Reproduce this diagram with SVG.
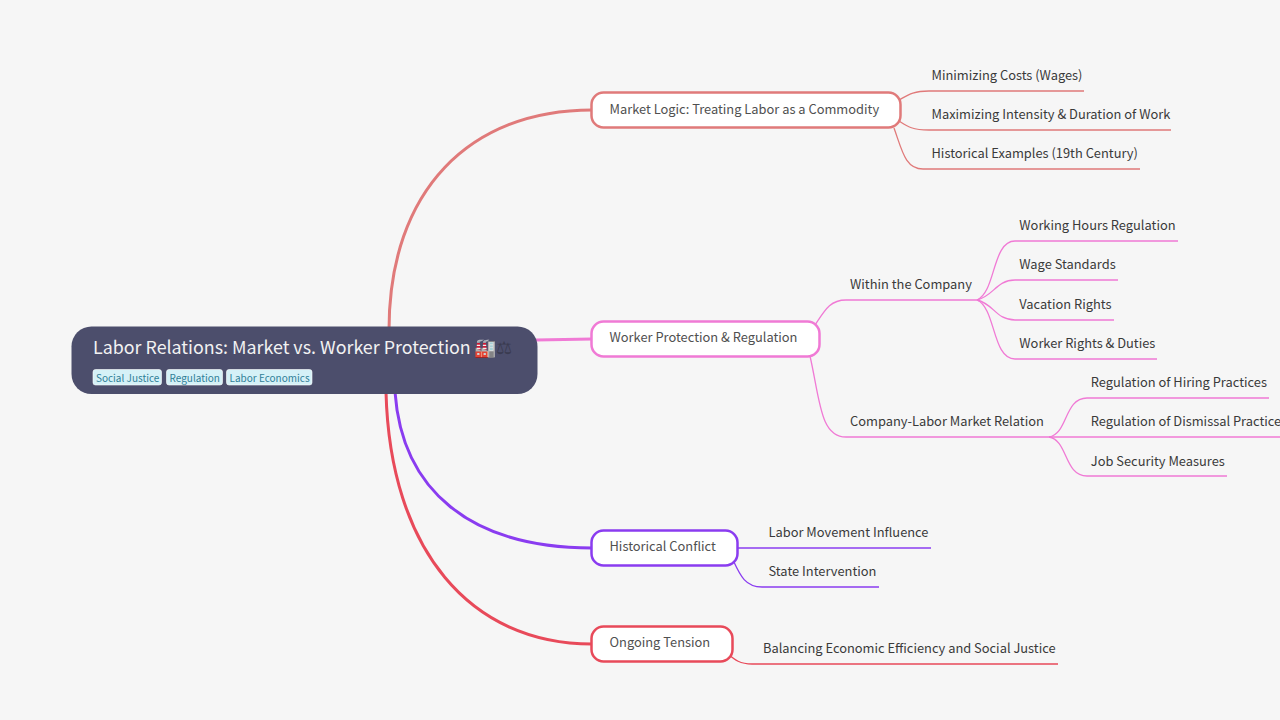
<svg xmlns="http://www.w3.org/2000/svg" width="1280" height="720" viewBox="0 0 1280 720">
<style>
text{font-family:"Noto Sans CJK SC","Noto Sans",sans-serif;}
.t{font-size:12.860px;fill:#3a3a3a;}
.m{font-size:12.860px;fill:#505050;}
.box{fill:#fff;stroke-width:2.5;}
.tag{fill:#d5f1f7;stroke:#fff;stroke-width:.6;}
.tt{font-size:10px;fill:#2f7f98;}
.c{fill:none;stroke-width:1.3;}
.r{stroke:#e07a7a}.p{stroke:#f07ad5}.v{stroke:#8a3cf0}.e{stroke:#e84a5a}
</style>
<rect width="1280" height="720" fill="#f6f6f6"/>
<g id="connectors">
<path class="c r" style="stroke-width:3" d="M389 330C389 190 470 110 592 110"/>
<path class="c p" style="stroke-width:3" d="M536 340L592 339"/>
<path class="c v" style="stroke-width:3" d="M395 392C402 490 470 548 592 548"/>
<path class="c e" style="stroke-width:3" d="M386 392C390 550 470 644 592 644"/>
<path class="c r" d="M899 100C908 95 913 91 929 91H1084"/>
<path class="c r" d="M899 121C908 127 913 130 929 130H1171"/>
<path class="c r" d="M894 128C902 150 905 169 923 169H1140"/>
<path class="c p" d="M815 325C825 310 830 300 846 300H977"/>
<path class="c p" d="M810 356C820 400 820 437 846 437H1049"/>
<path class="c p" d="M977 300C996 292 992 241 1015 241H1178"/>
<path class="c p" d="M977 300C994 296 996 280 1015 280H1118"/>
<path class="c p" d="M977 300C994 304 996 320 1015 320H1114"/>
<path class="c p" d="M977 300C996 308 992 359 1015 359H1157"/>
<path class="c p" d="M1049 437C1068 434 1064 398 1087 398H1269"/>
<path class="c p" d="M1049 437H1280"/>
<path class="c p" d="M1049 437C1068 440 1064 476 1087 476H1227"/>
<path class="c v" d="M738 548H931"/>
<path class="c v" d="M733 560C740 575 745 587 762 587H879"/>
<path class="c e" d="M728 654C735 660 740 664 752 664H1058"/>
</g>
<g id="root">
<rect x="71.500" y="326.500" width="466" height="67.500" rx="20" fill="#4c4e6c"/>
<text x="93" y="354" font-size="17.850" fill="#f2f2f2">Labor Relations: Market vs. Worker Protection <tspan dx="-0.800">🏭</tspan><tspan fill="#3a3b50">⚖</tspan></text>
<rect class="tag" x="93" y="369.500" width="68.500" height="15.500" rx="2.500"/>
<text class="tt" x="96" y="381.500">Social Justice</text>
<rect class="tag" x="166.500" y="369.500" width="56" height="15.500" rx="2.500"/>
<text class="tt" x="169.500" y="381.500">Regulation</text>
<rect class="tag" x="226.500" y="369.500" width="85.500" height="15.500" rx="2.500"/>
<text class="tt" x="229.500" y="381.500">Labor Economics</text>
</g>
<g id="n-market"><rect class="box r" x="591.500" y="92.500" width="309" height="35" rx="12"/><text class="m" x="609.500" y="114">Market Logic: Treating Labor as a Commodity</text></g>
<g id="n-protect"><rect class="box p" x="591.500" y="321.500" width="228" height="35" rx="12"/><text class="m" x="609.500" y="342">Worker Protection &amp; Regulation</text></g>
<g id="n-conflict"><rect class="box v" x="591.500" y="530.500" width="146" height="35" rx="12"/><text class="m" x="609.500" y="551">Historical Conflict</text></g>
<g id="n-tension"><rect class="box e" x="591.500" y="626.500" width="141" height="35" rx="12"/><text class="m" x="609.500" y="647">Ongoing Tension</text></g>
<g id="n1"><text class="t" x="931.500" y="80">Minimizing Costs (Wages)</text></g>
<g id="n2"><text class="t" x="931.500" y="119">Maximizing Intensity &amp; Duration of Work</text></g>
<g id="n3"><text class="t" x="931.500" y="158">Historical Examples (19th Century)</text></g>
<g id="n4"><text class="t" x="850" y="289">Within the Company</text></g>
<g id="n5"><text class="t" x="850" y="426">Company-Labor Market Relation</text></g>
<g id="n6"><text class="t" x="1019.300" y="230">Working Hours Regulation</text></g>
<g id="n7"><text class="t" x="1019.300" y="269">Wage Standards</text></g>
<g id="n8"><text class="t" x="1019.300" y="309">Vacation Rights</text></g>
<g id="n9"><text class="t" x="1019.300" y="348">Worker Rights &amp; Duties</text></g>
<g id="n10"><text class="t" x="1090.800" y="387">Regulation of Hiring Practices</text></g>
<g id="n11"><text class="t" x="1090.800" y="426">Regulation of Dismissal Practices</text></g>
<g id="n12"><text class="t" x="1090.800" y="466">Job Security Measures</text></g>
<g id="n13"><text class="t" x="768.500" y="537">Labor Movement Influence</text></g>
<g id="n14"><text class="t" x="768.500" y="576">State Intervention</text></g>
<g id="n15"><text class="t" x="763" y="653">Balancing Economic Efficiency and Social Justice</text></g>
</svg>
